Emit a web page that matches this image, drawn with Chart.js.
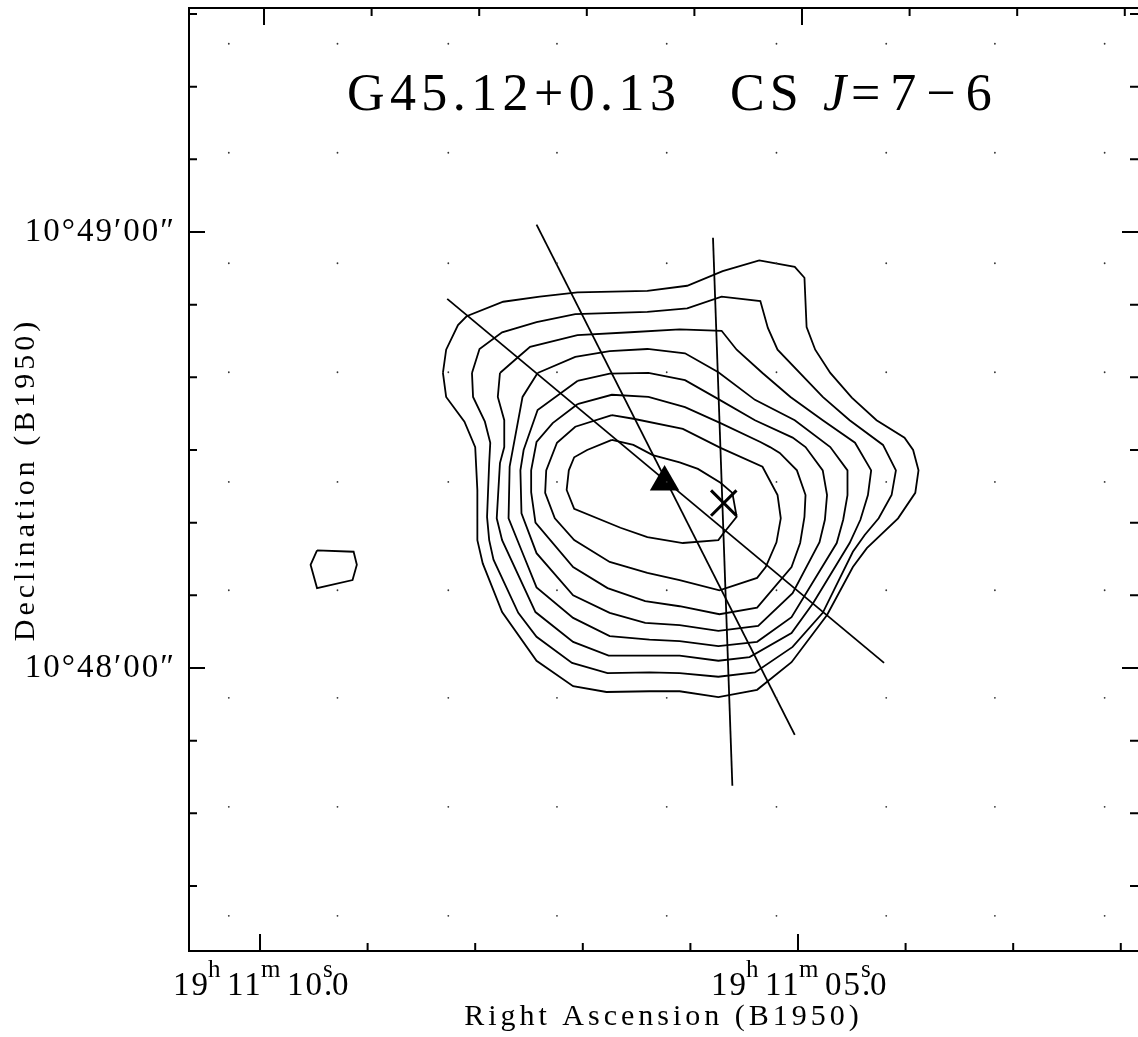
<!DOCTYPE html>
<html>
<head>
<meta charset="utf-8">
<title>G45.12+0.13 CS J=7-6</title>
<style>
  html, body { margin: 0; padding: 0; background: #fff; }
  canvas { display: block; }
</style>
<script src="https://cdn.jsdelivr.net/npm/chart.js@4/dist/chart.umd.min.js"></script>
</head>
<body>
<canvas id="contour_chart" width="1138" height="1037"></canvas>
<script>
// RA is seconds after 19h11m, Dec is arcsec after 10d48m00s
const c1_ra = [8.30,8.27,8.16,8.08,7.74,7.40,7.05,6.40,6.03,5.70,5.36,5.03,4.94,4.92,4.84,4.70,4.50,4.27,4.01,3.93,3.88,3.91,4.07,4.36,4.49,4.73,5.06,5.38,5.74,6.10,6.38,6.78,7.09,7.43,7.75,7.93,7.98,7.98,8.00,8.10,8.27];
const c1_dec = [40.6,43.8,47.2,48.4,50.4,51.1,51.7,51.9,52.6,54.6,56.1,55.2,53.7,46.9,43.8,40.6,37.2,34.1,31.7,30.0,27.2,24.1,20.6,16.5,13.9,7.3,0.8,-3.0,-4.0,-3.2,-3.2,-3.3,-2.5,1.0,7.7,14.4,17.6,24.5,30.4,33.9,37.3];
const c2_ra = [8.03,7.96,7.75,7.43,7.07,6.40,6.03,5.71,5.35,5.28,5.19,4.77,4.52,4.21,4.09,4.13,4.25,4.38,4.49,4.77,5.05,5.40,5.74,6.10,6.38,6.77,7.10,7.43,7.60,7.83,7.87,7.89,7.87,7.86,7.91,8.02];
const c2_dec = [40.6,43.9,46.2,47.6,48.7,49.0,49.5,51.1,50.5,46.8,43.8,37.3,34.1,30.7,27.2,23.8,20.6,18.3,16.0,7.6,2.9,-0.6,-1.2,-0.7,-0.6,-0.7,0.7,4.3,7.6,14.9,17.6,20.8,28.2,31.0,33.9,37.3];
const c3_ra = [7.77,7.60,7.49,7.05,6.56,6.10,5.71,5.57,5.33,5.07,4.77,4.47,4.32,4.35,4.42,4.52,4.86,5.06,5.45,5.74,6.10,6.25,6.76,7.09,7.44,7.75,7.80,7.77,7.73,7.73,7.79];
const c3_dec = [40.6,42.8,44.2,45.8,46.2,46.6,46.4,43.8,40.6,37.3,34.1,31.0,27.2,23.8,20.4,17.2,8.9,4.8,1.5,1.0,1.7,1.7,1.7,3.6,7.7,17.6,20.6,28.2,30.4,34.1,37.3];
const c4_ra = [7.42,7.07,6.75,6.40,6.05,5.74,5.40,5.03,4.70,4.54,4.54,4.58,4.64,5.06,5.38,5.74,6.10,6.38,6.75,7.09,7.43,7.57,7.69,7.68,7.56];
const c4_dec = [40.6,42.8,43.6,43.9,43.3,40.7,36.9,34.1,30.4,27.2,23.8,20.4,17.2,7.0,3.6,3.0,3.7,3.9,4.4,6.9,11.1,16.2,20.6,27.7,37.3];
const c5_ra = [7.05,6.75,6.39,6.05,5.74,5.40,5.05,4.93,4.77,4.73,4.75,4.80,5.05,5.37,5.74,6.10,6.42,6.75,7.09,7.43,7.57,7.58,7.55,7.42];
const c5_dec = [39.5,40.5,40.6,39.6,37.0,34.1,31.7,30.4,27.2,23.8,20.4,17.3,10.3,5.8,5.1,5.9,6.2,7.6,10.0,15.8,21.3,27.2,30.0,35.5];
const c6_ra = [7.05,6.73,6.39,6.05,5.72,5.35,5.26,5.17,5.01,4.93,4.94,4.98,5.06,5.38,5.73,6.10,6.42,6.77,7.09,7.44,7.48,7.48,7.43,7.28];
const c6_dec = [36.3,37.6,37.3,35.9,33.7,31.1,30.4,29.6,27.2,23.8,20.8,17.2,13.9,8.3,7.4,8.5,9.2,11.0,13.9,20.0,24.2,27.2,31.1,33.7];
const c7_ra = [6.73,6.53,6.07,5.72,5.33,5.19,5.16,5.20,5.30,5.38,5.73,6.10,6.40,6.75,7.08,7.26,7.35,7.34,7.24,7.07];
const c7_dec = [34.8,34.3,32.9,30.3,27.7,23.8,20.6,17.3,13.9,12.4,10.7,12.1,13.1,14.6,17.6,20.6,24.1,27.2,31.0,33.2];
const c8_ra = [6.73,6.53,6.35,6.10,5.93,5.72,5.61,5.57,5.70,5.74,6.07,6.40,6.65,7.08,7.15,7.13,7.08,6.96];
const c8_dec = [31.4,30.7,29.3,28.3,27.4,25.5,24.1,20.8,18.4,17.6,17.2,18.0,19.3,21.9,24.5,27.2,29.0,30.0];
const blob_ra = [9.47,9.13,9.10,9.14,9.47,9.53];
const blob_dec = [16.2,16.0,14.2,12.1,11.0,14.2];

const line1_ra = [8.26,4.20];
const line1_dec = [50.8,0.7];
const line2_ra = [7.43,5.03];
const line2_dec = [61.0,-9.2];
const line3_ra = [5.79,5.61];
const line3_dec = [59.2,-16.2];

const triangle_ra = [6.24];
const triangle_dec = [25.6];
const cross_ra = [5.69];
const cross_dec = [22.7];

const dot_ra = [10.29,9.28,8.25,7.24,6.22,5.20,4.18,3.17,2.15];
const dot_dec = [85.9,70.9,55.7,40.7,25.6,10.7,-4.1,-19.1,-34.1];

const ra_major = [10,5];
const ra_minor = [9,8,7,6,4,3,2];
const dec_major = [60,0];
const dec_minor = [90,80,70,50,40,30,20,10,-10,-20,-30];
const dec_labels = {60:"10°49′00″",0:"10°48′00″"};
const ra_sec_labels = {10:"10",5:"05"};

const serif = '"Liberation Serif", serif';

function pairs(ra_list,dec_list){
    return ra_list.map((ra,i) => ({x:ra,y:dec_list[i]}));
}

function closed(ra_list,dec_list){
    let points = pairs(ra_list,dec_list);
    points.push(points[0]);
    return points;
}

function lineSet(points){
    return {
        data:points,
        showLine:true,
        tension:0,
        borderColor:"#000",
        borderWidth:1.8,
        pointRadius:0
    };
}

let dots = [];
dot_ra.forEach(ra => {
    dot_dec.forEach(dec => {
        dots.push({x:ra,y:dec});
    });
});

function putText(ctx,text,x,y,font,spacing){
    ctx.font = font;
    ctx.letterSpacing = spacing;
    ctx.fillText(text,x,y);
}

// ticks point inward on all four sides, title and RA labels have mixed styles
const frame_plugin = {
    id:"frame",
    beforeDraw(chart){
        chart.ctx.letterSpacing = "2px";
    },
    afterLayout(chart){
        ["x","y"].forEach(id => {
            let scale = chart.scales[id];
            if(scale.titleWrapped) return;
            let draw_title = scale.drawTitle.bind(scale);
            scale.drawTitle = function(){
                chart.ctx.letterSpacing = "4px";
                draw_title();
                chart.ctx.letterSpacing = "2px";
            };
            scale.titleWrapped = true;
        });
    },
    afterDraw(chart){
        const ctx = chart.ctx;
        const area = chart.chartArea;
        const xs = chart.scales.x;
        const ys = chart.scales.y;

        ctx.save();
        ctx.strokeStyle = "#000";
        ctx.fillStyle = "#000";
        ctx.lineWidth = 2;
        ctx.beginPath();
        ctx.moveTo(area.left,area.top);
        ctx.lineTo(area.right,area.top);

        function xTick(value,len){
            let px = xs.getPixelForValue(value);
            ctx.moveTo(px,area.bottom);
            ctx.lineTo(px,area.bottom - len);
            ctx.moveTo(px + 4,area.top);
            ctx.lineTo(px + 4,area.top + len);
        }
        function yTick(value,len){
            let py = ys.getPixelForValue(value);
            ctx.moveTo(area.left,py);
            ctx.lineTo(area.left + len,py);
            ctx.moveTo(area.right,py);
            ctx.lineTo(area.right - len,py);
        }
        ra_major.forEach(v => xTick(v,17));
        ra_minor.forEach(v => xTick(v,8));
        dec_major.forEach(v => yTick(v,16));
        dec_minor.forEach(v => yTick(v,8));
        ctx.stroke();

        // title
        ctx.textAlign = "left";
        ctx.textBaseline = "alphabetic";
        const big = "52px " + serif;
        putText(ctx,"G45.12+0.13",347,110,big,"5.4px");
        putText(ctx,"CS",730,110,big,"5px");
        putText(ctx,"J",823,110,"italic " + big,"0px");
        putText(ctx,"=7−6",851,110,big,"10px");

        // RA labels with superscripts
        ra_major.forEach(v => {
            let left = xs.getPixelForValue(v) - 87;
            const norm = "33px " + serif;
            const sup = "25px " + serif;
            putText(ctx,"19",left,995,norm,"2px");
            putText(ctx,"h",left + 35,977,sup,"0px");
            putText(ctx,"11",left + 54,995,norm,"2px");
            putText(ctx,"m",left + 88,977,sup,"0px");
            putText(ctx,ra_sec_labels[v],left + 114,995,norm,"2px");
            putText(ctx,"s",left + 150,977,sup,"0px");
            putText(ctx,".",left + 151,995,norm,"0px");
            putText(ctx,"0",left + 159,995,norm,"0px");
        });
        ctx.restore();
    }
};

const ctx = document.getElementById("contour_chart").getContext("2d");

new Chart(ctx,{
    type:"scatter",
    data:{
        datasets:[
            {data:dots,pointRadius:0.9,pointBackgroundColor:"#333",pointBorderWidth:0},
            lineSet(closed(c1_ra,c1_dec)),
            lineSet(closed(c2_ra,c2_dec)),
            lineSet(closed(c3_ra,c3_dec)),
            lineSet(closed(c4_ra,c4_dec)),
            lineSet(closed(c5_ra,c5_dec)),
            lineSet(closed(c6_ra,c6_dec)),
            lineSet(closed(c7_ra,c7_dec)),
            lineSet(closed(c8_ra,c8_dec)),
            lineSet(closed(blob_ra,blob_dec)),
            lineSet(pairs(line1_ra,line1_dec)),
            lineSet(pairs(line2_ra,line2_dec)),
            lineSet(pairs(line3_ra,line3_dec)),
            {data:pairs(triangle_ra,triangle_dec),pointStyle:"triangle",pointRadius:17,pointBackgroundColor:"#000",pointBorderColor:"#000",pointBorderWidth:0},
            {data:pairs(cross_ra,cross_dec),pointStyle:"crossRot",pointRadius:18,pointBorderColor:"#000",pointBorderWidth:3}
        ]
    },
    options:{
        responsive:false,
        animation:false,
        layout:{autoPadding:false,padding:{top:8,right:0,bottom:0,left:0}},
        plugins:{
            legend:{display:false},
            tooltip:{enabled:false}
        },
        scales:{
            x:{
                type:"linear",
                reverse:true,
                min:1.84,
                max:10.66,
                grid:{display:false},
                border:{color:"#000",width:2},
                ticks:{display:false},
                title:{
                    display:true,
                    text:"Right Ascension (B1950)",
                    color:"#000",
                    font:{family:serif,size:30},
                    padding:{top:0,bottom:2}
                },
                afterBuildTicks(scale){
                    scale.ticks = ra_major.concat(ra_minor).map(v => ({value:v}));
                },
                afterFit(scale){
                    scale.height = 86;
                }
            },
            y:{
                type:"linear",
                min:-38.94,
                max:90.82,
                grid:{display:false},
                border:{color:"#000",width:2},
                ticks:{
                    color:"#000",
                    padding:5,
                    autoSkip:false,
                    maxRotation:0,
                    font:{family:serif,size:33},
                    callback:value => dec_labels[value] || ""
                },
                title:{
                    display:true,
                    text:"Declination (B1950)",
                    color:"#000",
                    font:{family:serif,size:30},
                    padding:{top:8,bottom:0}
                },
                afterBuildTicks(scale){
                    scale.ticks = dec_major.map(v => ({value:v}));
                },
                afterFit(scale){
                    scale.width = 189;
                    scale.paddingTop = 0;
                    scale.paddingBottom = 0;
                }
            }
        }
    },
    plugins:[frame_plugin]
});
</script>
</body>
</html>
